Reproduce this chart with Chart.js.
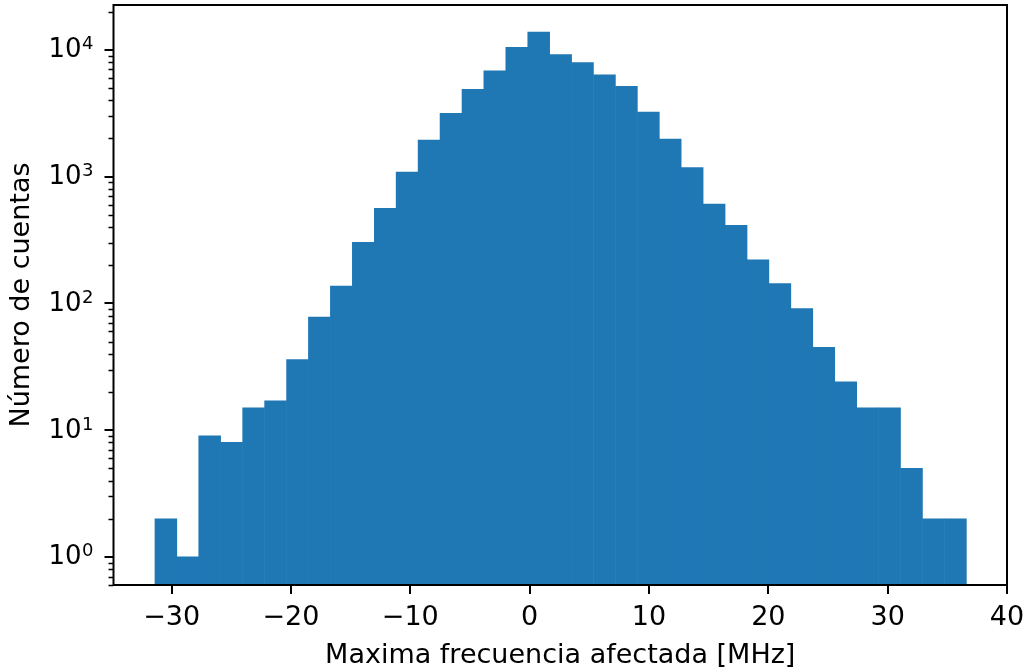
<!DOCTYPE html>
<html>
<head>
<meta charset="utf-8">
<script src="https://cdn.jsdelivr.net/npm/chart.js@4/dist/chart.umd.min.js"></script>
<style>
  html, body { margin: 0; padding: 0; background: #fff; }
</style>
</head>
<body>
<canvas id="histo" width="1024" height="672"></canvas>
<script>
// bin centres (MHz) and counts
const binCenters = [-30.48, -28.64, -26.81, -24.97, -23.13, -21.29, -19.45, -17.62, -15.78, -13.94,
                    -12.10, -10.27, -8.43, -6.59, -4.75, -2.92, -1.08, 0.76, 2.60, 4.43,
                    6.27, 8.11, 9.95, 11.78, 13.62, 15.46, 17.30, 19.13, 20.97, 22.81,
                    24.65, 26.49, 28.32, 30.16, 32.00, 33.84, 35.68];
const counts = [2, 1, 9, 8, 15, 17, 36, 78, 137, 303,
                561, 1083, 1941, 3148, 4886, 6812, 10446, 13800, 9155, 7921,
                6342, 5159, 3223, 1978, 1179, 607, 413, 220, 143, 91,
                45, 24, 15, 15, 5, 2, 2];
const xTicks = [-30, -20, -10, 0, 10, 20, 30, 40];
const yMajor = [1, 10, 100, 1000, 10000];
const yMajorExp = ['0', '1', '2', '3', '4'];

const FONT = { family: 'DejaVu Sans', size: 27 };

function isMajor(v) {
    const l = Math.log10(v);
    return Math.abs(l - Math.round(l)) < 1e-9;
}

// minor + major log ticks between the axis limits
function logTicks(min, max) {
    const out = [];
    for (let e = Math.floor(Math.log10(min)); e <= Math.ceil(Math.log10(max)); e++) {
        for (let m = 1; m < 10; m++) {
            const v = m * Math.pow(10, e);
            if (v >= min && v <= max) out.push({ value: v, major: m === 1 });
        }
    }
    return out;
}

// frame, minor y ticks and 10^n labels (matplotlib style)
const framePlugin = {
    id: 'frame',
    afterDraw(chart) {
        const { ctx, chartArea: a, scales: { y } } = chart;
        ctx.save();
        ctx.strokeStyle = '#000';
        ctx.lineWidth = 1.5;
        y.ticks.forEach(t => {
            if (isMajor(t.value)) return;
            const py = Math.round(y.getPixelForValue(t.value)) + 0.5;
            ctx.beginPath();
            ctx.moveTo(a.left, py);
            ctx.lineTo(a.left - 5, py);
            ctx.stroke();
        });
        ctx.lineWidth = 2;
        ctx.strokeRect(a.left, a.top, a.right - a.left, a.bottom - a.top);

        ctx.fillStyle = '#000';
        ctx.textBaseline = 'alphabetic';
        const xs = a.left - 32;
        yMajor.forEach((v, i) => {
            const py = y.getPixelForValue(v);
            ctx.font = '26px "DejaVu Sans"';
            ctx.textAlign = 'right';
            ctx.fillText('10', xs, py + 7.5);
            ctx.font = '18px "DejaVu Sans"';
            ctx.textAlign = 'left';
            ctx.fillText(yMajorExp[i], xs + 0.5, py - 0.5);
        });
        ctx.restore();
    }
};

new Chart(document.getElementById('histo'), {
    type: 'bar',
    data: {
        datasets: [{
            data: binCenters.map((x, i) => ({ x: x, y: counts[i] })),
            backgroundColor: '#1f77b4',
            borderWidth: 0,
            barPercentage: 1.0,
            categoryPercentage: 1.0
        }]
    },
    options: {
        responsive: false,
        animation: false,
        devicePixelRatio: 1,
        layout: { padding: { top: 5, right: 17, left: 0, bottom: 0 } },
        plugins: { legend: { display: false }, tooltip: { enabled: false } },
        scales: {
            x: {
                type: 'linear',
                offset: false,
                min: -34.87,
                max: 40,
                afterBuildTicks: s => { s.ticks = xTicks.map(v => ({ value: v })); },
                afterFit: s => { s.height = 87; s.paddingLeft = 0; s.paddingRight = 0; },
                grid: { offset: false, drawOnChartArea: false, tickLength: 9, lineWidth: 2, color: '#000' },
                border: { display: false },
                ticks: {
                    color: '#000',
                    font: FONT,
                    padding: 8,
                    maxRotation: 0,
                    autoSkip: false,
                    callback: v => String(v).replace('-', '\u2212')
                },
                title: {
                    display: true,
                    text: 'Maxima frecuencia afectada [MHz]',
                    color: '#000',
                    font: FONT,
                    padding: { top: 0, bottom: 0 }
                }
            },
            y: {
                type: 'logarithmic',
                min: 0.625,
                max: 22570,
                afterBuildTicks: s => { s.ticks = logTicks(s.min, s.max); },
                afterFit: s => { s.width = 113.5; s.paddingTop = 0; s.paddingBottom = 0; },
                grid: {
                    drawOnChartArea: false,
                    tickLength: 9,
                    lineWidth: 2,
                    color: c => (c.tick && isMajor(c.tick.value)) ? '#000' : 'rgba(0,0,0,0)'
                },
                border: { display: false },
                ticks: {
                    color: '#000',
                    font: FONT,
                    padding: 8,
                    autoSkip: false,
                    callback: () => ''
                },
                title: {
                    display: true,
                    text: 'Número de cuentas',
                    color: '#000',
                    font: FONT,
                    padding: { top: 6, bottom: 0 }
                }
            }
        }
    },
    plugins: [framePlugin]
});
</script>
</body>
</html>
